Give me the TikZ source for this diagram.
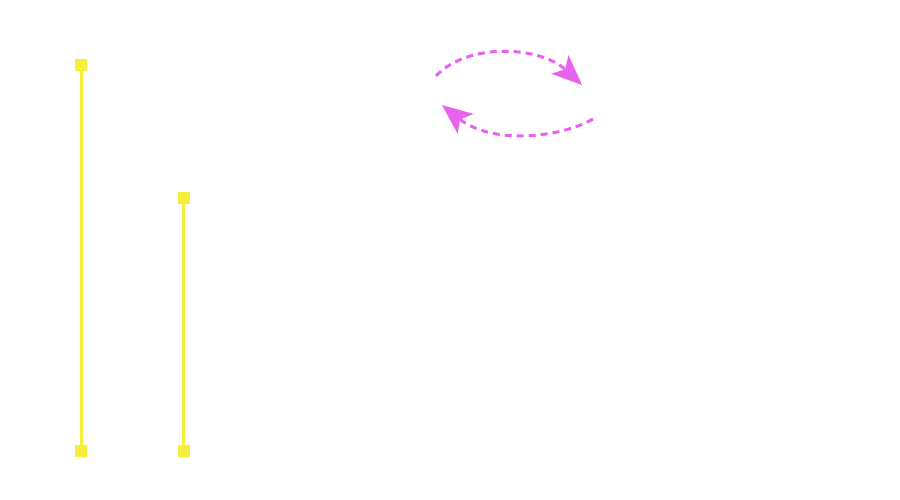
\documentclass[tikz,border=0pt]{standalone}
\usetikzlibrary{arrows.meta}
\definecolor{ylw}{RGB}{247,238,60}
\definecolor{mgt}{RGB}{232,98,240}
\tikzset{
  sq/.style={rectangle, fill=ylw, draw=none, minimum size=12pt, inner sep=0pt},
  post/.style={draw=ylw, line width=3pt},
  swap/.style={draw=mgt, line width=3pt, dash pattern=on 7pt off 5pt,
    -{Stealth[length=30pt, width=25pt, inset=7pt, fill=mgt]}}
}
\begin{document}
\begin{tikzpicture}[x=1pt,y=-1pt]
\useasboundingbox (0,0) rectangle (900,500);
\node[sq] (a1) at (81,65) {};
\node[sq] (a2) at (81,451) {};
\node[sq] (b1) at (183.5,198) {};
\node[sq] (b2) at (183.5,451) {};
\draw[post] (a1) -- (a2);
\draw[post] (b1) -- (b2);
\coordinate (p1) at (436,76);
\coordinate (p2) at (582,85);
\coordinate (q1) at (593,119);
\coordinate (q2) at (442,105);
\draw[swap] (p1) .. controls (468,42) and (540,46) .. (p2);
\draw[swap] (q1) .. controls (560,138) and (492,145) .. (q2);
\end{tikzpicture}
\end{document}
